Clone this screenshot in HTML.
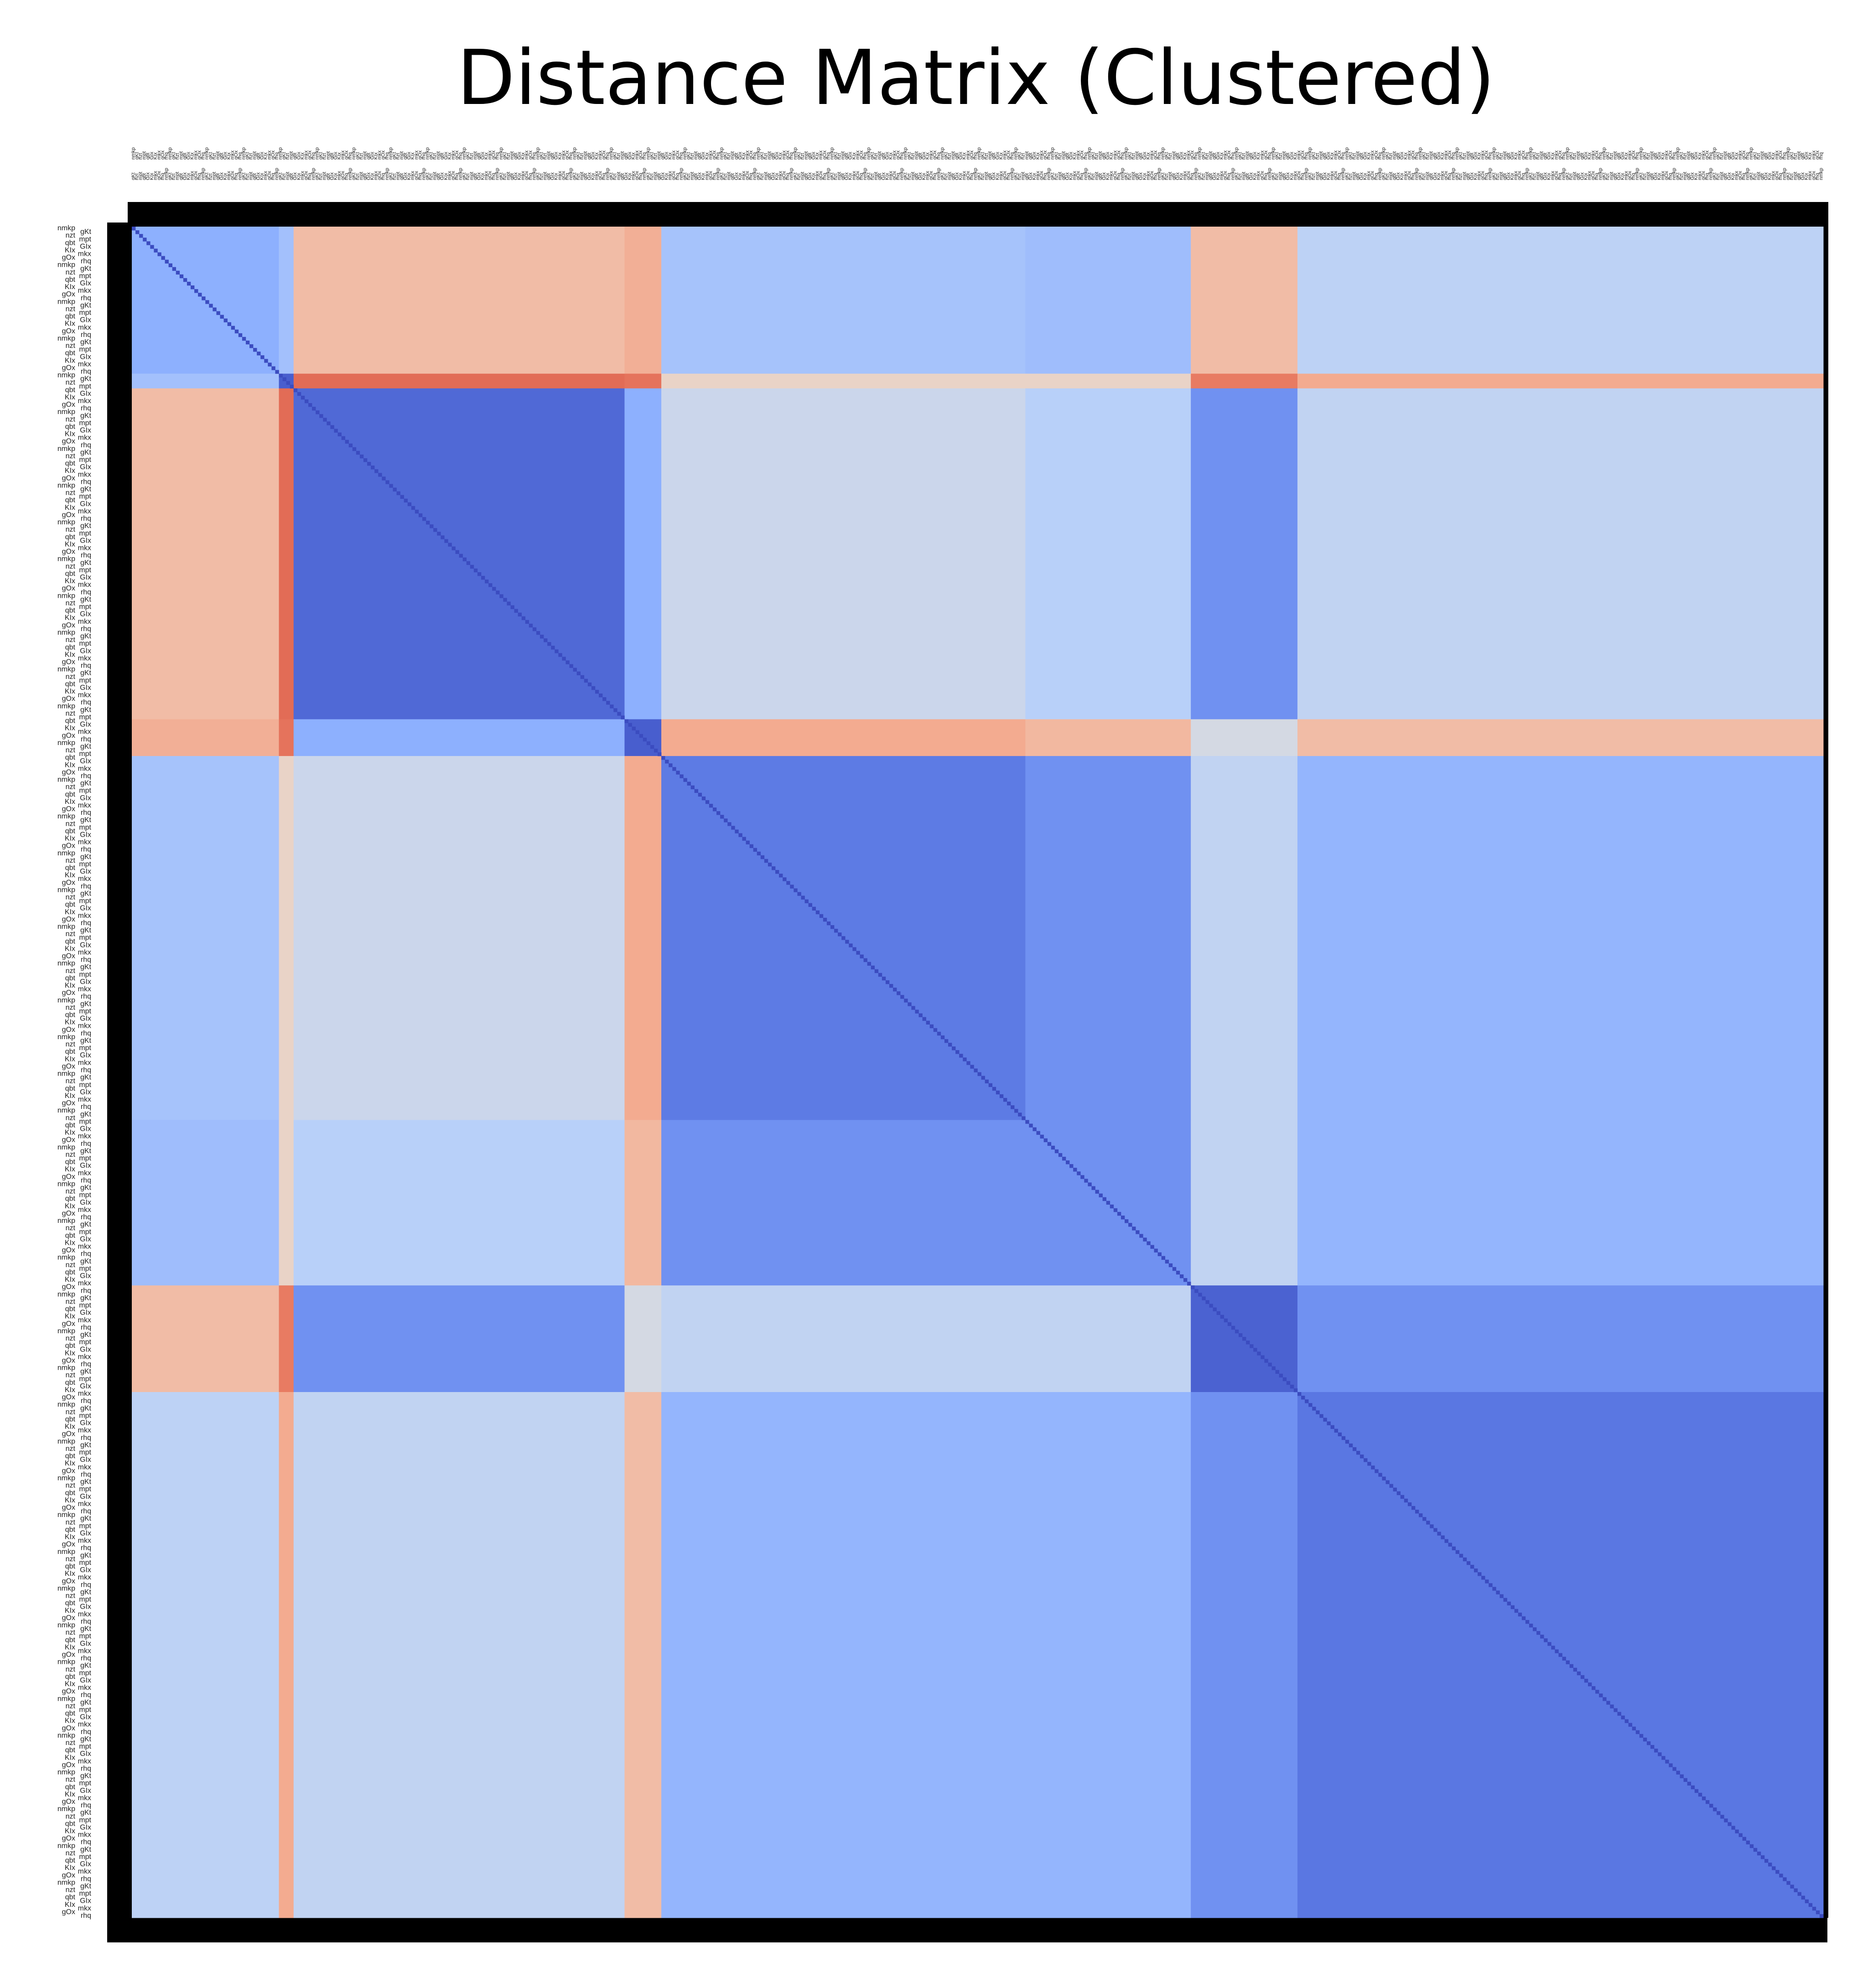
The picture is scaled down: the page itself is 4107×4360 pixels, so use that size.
<!DOCTYPE html>
<html><head><meta charset="utf-8"><style>
html,body{margin:0;padding:0;background:#fff;}
svg{display:block;}
</style></head><body>
<svg id="chart" width="4107" height="4360" viewBox="0 0 4107 4360" xmlns="http://www.w3.org/2000/svg">
<rect x="0" y="0" width="4107" height="4360" fill="#fff"/>
<text x="2140" y="228" font-family="DejaVu Sans, Liberation Sans, sans-serif" font-size="166" text-anchor="middle" fill="#000">Distance Matrix (Clustered)</text>
<g id="toplabels"></g>
<g id="leftlabels"></g>
<rect x="280" y="443" width="3729" height="54" fill="#000"/>
<rect x="235" y="488" width="54" height="3772" fill="#000"/>
<rect x="277" y="4206" width="3730" height="54" fill="#000"/>
<rect x="3998" y="443" width="11" height="3763" fill="#000"/>
<g id="heat"></g>
</svg>
<script>
// cluster names and sizes (items per cluster, in dendrogram order)
const clusters = ["A","S","B","C","D","E","F","G"];
const clusterSizes = [40, 4, 90, 10, 99, 45, 29, 143];
// block mean distances (symmetric), 0 = close, 1 = far
const rowA = [0.30,0.36,0.62,0.65,0.37,0.35,0.62,0.43];
const rowS = [0.36,0.05,0.82,0.80,0.55,0.55,0.78,0.66];
const rowB = [0.62,0.82,0.08,0.30,0.46,0.42,0.20,0.44];
const rowC = [0.65,0.80,0.30,0.05,0.66,0.63,0.48,0.62];
const rowD = [0.37,0.55,0.46,0.66,0.13,0.20,0.44,0.32];
const rowE = [0.35,0.55,0.42,0.63,0.20,0.20,0.44,0.32];
const rowF = [0.62,0.78,0.20,0.48,0.44,0.44,0.06,0.20];
const rowG = [0.43,0.66,0.44,0.62,0.32,0.32,0.20,0.12];
const blockValues = [rowA,rowS,rowB,rowC,rowD,rowE,rowF,rowG];
const diagonalValue = 0.0;

const X0=289, Y0=497, SIZE=3709;
const N = clusterSizes.reduce((a,b)=>a+b,0);
const cell = SIZE/N;
function xScale(i){return X0 + i*cell;}
function yScale(i){return Y0 + i*cell;}

const stops=[[0,[59,76,192]],[0.15,[98,130,234]],[0.3,[141,176,254]],[0.42,[184,208,249]],[0.5,[221,220,220]],[0.58,[240,205,187]],[0.7,[244,154,123]],[0.85,[222,96,77]],[1,[180,4,38]]];
function color(v){
  v=Math.max(0,Math.min(1,v));
  for(let k=1;k<stops.length;k++){
    if(v<=stops[k][0]){
      const a=stops[k-1],b=stops[k],t=(v-a[0])/(b[0]-a[0]);
      const c=a[1].map((x,j)=>Math.round(x+(b[1][j]-x)*t));
      return `rgb(${c[0]},${c[1]},${c[2]})`;
    }
  }
  return 'rgb(180,4,38)';
}
const NS="http://www.w3.org/2000/svg";
const heat=document.getElementById('heat');
const starts=[];let acc=0;for(const s of clusterSizes){starts.push(acc);acc+=s;}
for(let r=0;r<clusters.length;r++){
  for(let c=0;c<clusters.length;c++){
    const el=document.createElementNS(NS,'rect');
    const x=xScale(starts[c]), y=yScale(starts[r]);
    el.setAttribute('x',x);el.setAttribute('y',y);
    el.setAttribute('width',xScale(starts[c]+clusterSizes[c])-x+0.5);
    el.setAttribute('height',yScale(starts[r]+clusterSizes[r])-y+0.5);
    el.setAttribute('fill',color(blockValues[r][c]));
    
    
    heat.appendChild(el);
  }
}
for(let i=0;i<N;i++){
  const el=document.createElementNS(NS,'rect');
  el.setAttribute('x',xScale(i));el.setAttribute('y',yScale(i));
  el.setAttribute('width',cell+0.3);el.setAttribute('height',cell+0.3);
  el.setAttribute('fill',color(diagonalValue));
  
  
  heat.appendChild(el);
}
// tiny tick labels
const labelWords=["nmkp","gKt","nzt","mpt","qbt","GIx","KIx","mkx","gOx","rhq"];
const topGroup=document.getElementById('toplabels');
for(let i=0;i<N;i++){
  for(let row=0;row<2;row++){
    const t=document.createElementNS(NS,'text');
    const x=xScale(i)+cell*0.8, y=row===0?350:395;
    t.setAttribute('x',x);t.setAttribute('y',y);
    t.setAttribute('transform',`rotate(-90 ${x} ${y})`);
    t.setAttribute('font-size','11');t.setAttribute('fill','#222');
    t.setAttribute('font-family','Liberation Sans, sans-serif');
    t.textContent=labelWords[(i+row)%labelWords.length];
    
    
    topGroup.appendChild(t);
  }
}
const leftGroup=document.getElementById('leftlabels');
for(let i=0;i<N;i++){
  const t=document.createElementNS(NS,'text');
  t.setAttribute('x',i%2?200:165);t.setAttribute('y',yScale(i)+cell);
  t.setAttribute('text-anchor','end');
  t.setAttribute('font-size','16');t.setAttribute('fill','#222');
  t.setAttribute('font-family','Liberation Sans, sans-serif');
  t.textContent=labelWords[i%labelWords.length];
  
  
  leftGroup.appendChild(t);
}
</script>
</body></html>
